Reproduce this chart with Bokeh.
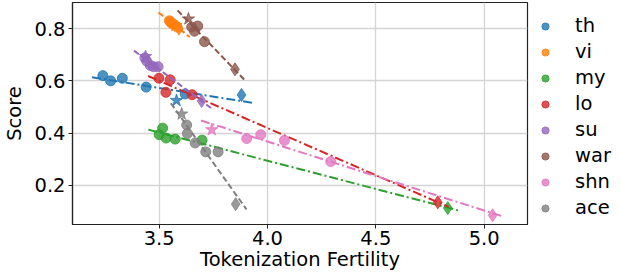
import numpy as np
from bokeh.plotting import figure
from bokeh.layouts import row
from bokeh.models import Legend, LegendItem, Range1d, FixedTicker
from bokeh.embed import file_html
from bokeh.resources import INLINE

languages = ["th", "vi", "my", "lo", "su", "war", "shn", "ace"]
colors = ["#1f77b4", "#ff7f0e", "#2ca02c", "#d62728", "#9467bd", "#8c564b", "#e377c2", "#7f7f7f"]
dashes = ["9 3 2 3", "6 3", "9 3 2 3", "9 3 2 3", "6 3", "6 3", "9 3 2 3", "6 3"]

# circle points (fertility, score)
th_x = [3.24, 3.276, 3.33, 3.44, 3.62]
th_y = [0.62, 0.60, 0.61, 0.576, 0.55]
vi_x = [3.547, 3.552, 3.558, 3.570, 3.583]
vi_y = [0.830, 0.826, 0.820, 0.815, 0.806]
my_x = [3.500, 3.516, 3.532, 3.574, 3.698]
my_y = [0.394, 0.419, 0.381, 0.377, 0.373]
lo_x = [3.499, 3.551, 3.531, 3.652]
lo_y = [0.610, 0.604, 0.556, 0.547]
su_x = [3.434, 3.443, 3.459, 3.474, 3.495]
su_y = [0.688, 0.675, 0.659, 0.654, 0.654]
war_x = [3.650, 3.663, 3.678, 3.709]
war_y = [0.806, 0.790, 0.810, 0.750]
shn_x = [3.904, 3.969, 4.078, 4.292]
shn_y = [0.379, 0.394, 0.372, 0.291]
ace_x = [3.627, 3.630, 3.666, 3.715, 3.772]
ace_y = [0.431, 0.398, 0.362, 0.328, 0.328]

# star points
star_lang = ["th", "vi", "su", "war", "shn", "ace"]
star_x = [3.580, 3.575, 3.437, 3.635, 3.743, 3.604]
star_y = [0.525, 0.812, 0.693, 0.837, 0.413, 0.473]

# diamond points
diam_lang = ["th", "vi", "my", "lo", "su", "war", "shn", "ace"]
diam_x = [3.880, 3.591, 4.832, 4.786, 3.696, 3.850, 5.039, 3.853]
diam_y = [0.546, 0.800, 0.113, 0.135, 0.523, 0.644, 0.085, 0.128]

circles = {
    "th": (th_x, th_y), "vi": (vi_x, vi_y), "my": (my_x, my_y), "lo": (lo_x, lo_y),
    "su": (su_x, su_y), "war": (war_x, war_y), "shn": (shn_x, shn_y), "ace": (ace_x, ace_y),
}

x_ticks = [3.5, 4.0, 4.5, 5.0]
x_tick_labels = ["3.5", "4.0", "4.5", "5.0"]
y_ticks = [0.2, 0.4, 0.6, 0.8]
y_tick_labels = ["0.2", "0.4", "0.6", "0.8"]

FONT = "DejaVu Sans"
FS = "19.5px"
H = 273

p = figure(width=536, height=H, output_backend="svg", toolbar_location=None,
           x_range=Range1d(3.10, 5.20), y_range=Range1d(0.05, 0.90),
           min_border_left=0, min_border_right=9, min_border_top=2, min_border_bottom=0)

p.background_fill_color = "white"
p.border_fill_color = "white"
p.outline_line_color = "#222222"
p.outline_line_width = 1.2

for ax in (p.xaxis, p.yaxis):
    ax.axis_line_color = "#222222"
    ax.axis_line_width = 1.2
    ax.major_tick_line_color = "#222222"
    ax.major_tick_out = 4
    ax.major_tick_in = 0
    ax.minor_tick_line_color = None
    ax.major_label_text_font = FONT
    ax.major_label_text_font_size = FS
    ax.major_label_text_color = "black"
    ax.axis_label_text_font = FONT
    ax.axis_label_text_font_size = FS
    ax.axis_label_text_font_style = "normal"
    ax.axis_label_text_color = "black"

p.xaxis.major_label_standoff = 2
p.yaxis.major_label_standoff = 3
p.xaxis.ticker = FixedTicker(ticks=x_ticks)
p.yaxis.ticker = FixedTicker(ticks=y_ticks)
p.xaxis.major_label_overrides = dict(zip(x_ticks, x_tick_labels))
p.yaxis.major_label_overrides = dict(zip(y_ticks, y_tick_labels))
p.xaxis.axis_label = "Tokenization Fertility"
p.yaxis.axis_label = "Score"
p.xaxis.axis_label_standoff = 0
p.yaxis.axis_label_standoff = 5

p.grid.grid_line_color = "#d4d4d4"
p.grid.grid_line_width = 1.3

for lang, col, dash in zip(languages, colors, dashes):
    cx, cy = circles[lang]
    xs = list(cx)
    ys = list(cy)
    p.scatter(cx, cy, marker="circle", size=10, fill_color=col, line_color=col,
              fill_alpha=0.8, line_alpha=0.8)
    sx = [x for l, x in zip(star_lang, star_x) if l == lang]
    sy = [y for l, y in zip(star_lang, star_y) if l == lang]
    if sx:
        p.scatter(sx, sy, marker="star", size=13, fill_color=col, line_color=col,
                  fill_alpha=0.8, line_alpha=0.8)
        xs += sx
        ys += sy
    dx = [x for l, x in zip(diam_lang, diam_x) if l == lang]
    dy = [y for l, y in zip(diam_lang, diam_y) if l == lang]
    if dx:
        p.scatter(dx, dy, marker="diamond", size=13, fill_color=col, line_color=col,
                  fill_alpha=0.8, line_alpha=0.8)
        xs += dx
        ys += dy
    slope, icpt = np.polyfit(xs, ys, 1)
    lx = np.array([min(xs) - 0.05, max(xs) + 0.05])
    p.line(lx, slope * lx + icpt, line_color=col, line_width=2, line_dash=dash)

# legend panel on the right
pl = figure(width=77, height=H, output_backend="svg", toolbar_location=None,
            x_range=Range1d(0, 1), y_range=Range1d(0, 1),
            min_border=0, x_axis_location=None, y_axis_location=None)
pl.outline_line_color = None
pl.grid.visible = False
pl.background_fill_color = "white"
pl.border_fill_color = "white"

legend_items = []
for lang, col in zip(languages, colors):
    r = pl.scatter([np.nan], [np.nan], marker="circle", size=7, fill_color=col,
                   line_color=col, fill_alpha=0.8, line_alpha=0.8)
    legend_items.append(LegendItem(label=lang, renderers=[r]))

legend = Legend(items=legend_items, location=(0, 5), orientation="vertical",
                label_text_font=FONT, label_text_font_size=FS, label_text_color="black",
                glyph_width=18, glyph_height=18, label_height=23, label_standoff=21,
                spacing=3, padding=0, margin=0, border_line_alpha=0,
                background_fill_alpha=0)
pl.add_layout(legend)

layout = row(p, pl)
open("out.html", "w").write(file_html(layout, INLINE))
